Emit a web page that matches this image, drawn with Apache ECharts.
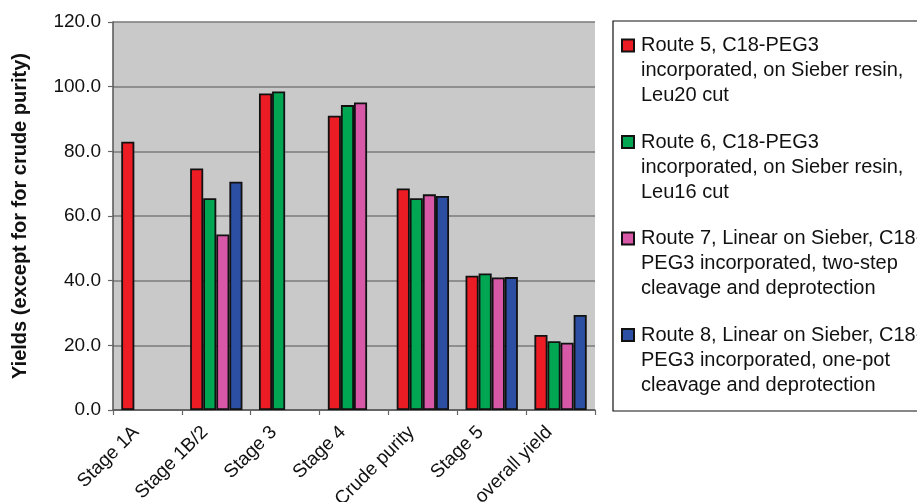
<!DOCTYPE html>
<html>
<head>
<meta charset="utf-8">
<script src="https://cdn.jsdelivr.net/npm/echarts@6/dist/echarts.min.js"></script>
<style>html,body{margin:0;padding:0;background:#fff;}#c{width:917px;height:502px;}</style>
</head>
<body>
<div id="c"></div>
<script>
const categories = ['Stage 1A', 'Stage 1B/2', 'Stage 3', 'Stage 4', 'Crude purity', 'Stage 5', 'overall yield'];
const seriesNames = [
  'Route 5, C18-PEG3\nincorporated, on Sieber resin,\nLeu20 cut',
  'Route 6, C18-PEG3\nincorporated, on Sieber resin,\nLeu16 cut',
  'Route 7, Linear on Sieber, C18-\nPEG3 incorporated, two-step\ncleavage and deprotection',
  'Route 8, Linear on Sieber, C18-\nPEG3 incorporated, one-pot\ncleavage and deprotection'
];
const route5 = [83.0, 74.7, 97.9, 91.0, 68.5, 41.5, 23.2];
const route6 = [null, 65.5, 98.5, 94.3, 65.5, 42.2, 21.3];
const route7 = [null, 54.3, null, 95.1, 66.7, 41.0, 20.8];
const route8 = [null, 70.6, null, null, 66.2, 41.1, 29.4];
const yTicks = [0, 20, 40, 60, 80, 100, 120];
const colors = ['#ec1c24', '#00a651', '#d758a6', '#2c4fa3'];

const chart = echarts.init(document.getElementById('c'));
const font = 'Liberation Sans, Arial, sans-serif';
const dataSets = [route5, route6, route7, route8];
chart.setOption({
  backgroundColor: '#ffffff',
  animation: false,
  graphic: [{
    type: 'rect', z: 0, silent: true,
    shape: { x: 613, y: 21, width: 330, height: 390 },
    style: { fill: '#ffffff', stroke: '#111111', lineWidth: 1.2 }
  }],
  grid: {
    left: 113, right: 322, top: 22, bottom: 92,
    outerBoundsMode: 'none', containLabel: false,
    show: true, backgroundColor: '#c9c9c9', borderWidth: 0
  },
  legend: {
    orient: 'vertical',
    left: 621, top: 7, padding: 0,
    itemWidth: 12, itemHeight: 12, itemGap: -2,
    icon: 'rect',
    z: 5,
    formatter: function (name) {
      return '{pad| }\n' + name.split('\n').map(s => '{t|' + s + '}').join('\n');
    },
    textStyle: {
      fontFamily: font, fontSize: 20, color: '#111',
      rich: {
        pad: { fontSize: 2, lineHeight: 50 },
        t: { fontFamily: font, fontSize: 20, lineHeight: 25, color: '#111', padding: [0, 0, 0, 2] }
      }
    },
    data: seriesNames
  },
  xAxis: {
    type: 'category',
    data: categories,
    axisLine: { show: true, lineStyle: { color: '#555', width: 1.5 } },
    axisTick: { show: true, length: 5, lineStyle: { color: '#666', width: 1.2 } },
    axisLabel: { interval: 0, rotate: 45, fontFamily: font, fontSize: 19, color: '#111', margin: 8, padding: [0, 16, 0, 0] }
  },
  yAxis: {
    type: 'value',
    min: yTicks[0], max: yTicks[yTicks.length - 1], interval: 20,
    name: 'Yields (except for for crude purity)',
    nameLocation: 'middle', nameGap: 83,
    nameTextStyle: { fontFamily: font, fontSize: 20, fontWeight: 'bold', color: '#111' },
    axisLine: { show: true, lineStyle: { color: '#555', width: 1.5 } },
    axisTick: { show: true, length: 5, lineStyle: { color: '#666', width: 1.2 } },
    axisLabel: { fontFamily: font, fontSize: 19, color: '#111', margin: 12, formatter: v => v.toFixed(1) },
    splitLine: { show: true, lineStyle: { color: '#7a7a7a', width: 1.5 } }
  },
  series: dataSets.map((d, i) => ({
    type: 'bar',
    name: seriesNames[i],
    data: d,
    barGap: '0%',
    barCategoryGap: '24%',
    itemStyle: { color: colors[i], borderColor: '#111', borderWidth: 1.8 }
  }))
});
</script>
</body>
</html>
